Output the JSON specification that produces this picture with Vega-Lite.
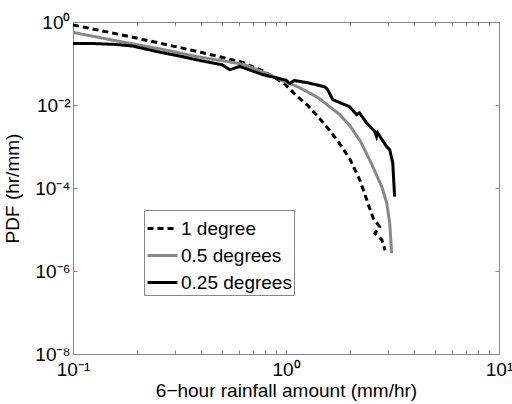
{
  "$schema": "https://vega.github.io/schema/vega-lite/v6.json",
  "width": 426,
  "height": 332,
  "autosize": {"type": "none"},
  "padding": {"left": 73, "top": 22, "right": 13, "bottom": 50},
  "background": "white",
  "config": {
    "font": "Liberation Sans",
    "view": {"stroke": "#888888", "strokeWidth": 1},
    "axis": {"grid": false, "domain": false, "tickColor": "#888888", "tickWidth": 1, "labelColor": "#000000", "titleColor": "#000000", "labelFontSize": 19, "titleFontSize": 19, "titleFontWeight": "normal", "labelFont": "Liberation Sans", "titleFont": "Liberation Sans"}
  },
  "data": {"values": [
    {"s": "1 degree", "i": 1, "x": 0.1, "y": 0.851},
    {"s": "1 degree", "i": 2, "x": 0.1585, "y": 0.525},
    {"s": "1 degree", "i": 3, "x": 0.2512, "y": 0.316},
    {"s": "1 degree", "i": 4, "x": 0.3981, "y": 0.186},
    {"s": "1 degree", "i": 5, "x": 0.5012, "y": 0.141},
    {"s": "1 degree", "i": 6, "x": 0.631, "y": 0.105},
    {"s": "1 degree", "i": 7, "x": 0.7943, "y": 0.0631},
    {"s": "1 degree", "i": 8, "x": 0.8913, "y": 0.0447},
    {"s": "1 degree", "i": 9, "x": 1.0, "y": 0.0302},
    {"s": "1 degree", "i": 10, "x": 1.122, "y": 0.0166},
    {"s": "1 degree", "i": 11, "x": 1.259, "y": 0.01},
    {"s": "1 degree", "i": 12, "x": 1.413, "y": 0.00525},
    {"s": "1 degree", "i": 13, "x": 1.585, "y": 0.00263},
    {"s": "1 degree", "i": 14, "x": 1.778, "y": 0.0012},
    {"s": "1 degree", "i": 15, "x": 1.995, "y": 0.000501},
    {"s": "1 degree", "i": 16, "x": 2.239, "y": 0.000141},
    {"s": "1 degree", "i": 17, "x": 2.455, "y": 0.0000355},
    {"s": "1 degree", "i": 18, "x": 2.57, "y": 0.0000186},
    {"s": "1 degree", "i": 19, "x": 2.754, "y": 0.0000115},
    {"s": "1 degree", "i": 20, "x": 2.612, "y": 0.00000813},
    {"s": "1 degree", "i": 21, "x": 2.818, "y": 0.00000562},
    {"s": "1 degree", "i": 22, "x": 2.917, "y": 0.00000316},
    {"s": "0.5 degrees", "i": 1, "x": 0.1, "y": 0.562},
    {"s": "0.5 degrees", "i": 2, "x": 0.1585, "y": 0.355},
    {"s": "0.5 degrees", "i": 3, "x": 0.2512, "y": 0.229},
    {"s": "0.5 degrees", "i": 4, "x": 0.3981, "y": 0.141},
    {"s": "0.5 degrees", "i": 5, "x": 0.5012, "y": 0.117},
    {"s": "0.5 degrees", "i": 6, "x": 0.631, "y": 0.0955},
    {"s": "0.5 degrees", "i": 7, "x": 0.7943, "y": 0.0603},
    {"s": "0.5 degrees", "i": 8, "x": 1.0, "y": 0.0355},
    {"s": "0.5 degrees", "i": 9, "x": 1.122, "y": 0.0282},
    {"s": "0.5 degrees", "i": 10, "x": 1.259, "y": 0.0209},
    {"s": "0.5 degrees", "i": 11, "x": 1.413, "y": 0.0151},
    {"s": "0.5 degrees", "i": 12, "x": 1.585, "y": 0.00955},
    {"s": "0.5 degrees", "i": 13, "x": 1.778, "y": 0.00603},
    {"s": "0.5 degrees", "i": 14, "x": 1.995, "y": 0.00316},
    {"s": "0.5 degrees", "i": 15, "x": 2.239, "y": 0.00132},
    {"s": "0.5 degrees", "i": 16, "x": 2.512, "y": 0.000398},
    {"s": "0.5 degrees", "i": 17, "x": 2.818, "y": 0.000107},
    {"s": "0.5 degrees", "i": 18, "x": 2.972, "y": 0.0000437},
    {"s": "0.5 degrees", "i": 19, "x": 3.069, "y": 0.0000141},
    {"s": "0.5 degrees", "i": 20, "x": 3.133, "y": 0.00000269},
    {"s": "0.25 degrees", "i": 1, "x": 0.1, "y": 0.302},
    {"s": "0.25 degrees", "i": 2, "x": 0.1259, "y": 0.302},
    {"s": "0.25 degrees", "i": 3, "x": 0.1585, "y": 0.288},
    {"s": "0.25 degrees", "i": 4, "x": 0.1905, "y": 0.263},
    {"s": "0.25 degrees", "i": 5, "x": 0.2512, "y": 0.191},
    {"s": "0.25 degrees", "i": 6, "x": 0.3162, "y": 0.151},
    {"s": "0.25 degrees", "i": 7, "x": 0.3981, "y": 0.117},
    {"s": "0.25 degrees", "i": 8, "x": 0.5012, "y": 0.0933},
    {"s": "0.25 degrees", "i": 9, "x": 0.5445, "y": 0.0708},
    {"s": "0.25 degrees", "i": 10, "x": 0.6067, "y": 0.0851},
    {"s": "0.25 degrees", "i": 11, "x": 0.7798, "y": 0.0537},
    {"s": "0.25 degrees", "i": 12, "x": 1.0, "y": 0.0398},
    {"s": "0.25 degrees", "i": 13, "x": 1.04, "y": 0.0331},
    {"s": "0.25 degrees", "i": 14, "x": 1.096, "y": 0.0389},
    {"s": "0.25 degrees", "i": 15, "x": 1.25, "y": 0.0347},
    {"s": "0.25 degrees", "i": 16, "x": 1.521, "y": 0.0275},
    {"s": "0.25 degrees", "i": 17, "x": 1.57, "y": 0.0234},
    {"s": "0.25 degrees", "i": 18, "x": 1.656, "y": 0.0135},
    {"s": "0.25 degrees", "i": 19, "x": 1.986, "y": 0.00912},
    {"s": "0.25 degrees", "i": 20, "x": 2.143, "y": 0.00589},
    {"s": "0.25 degrees", "i": 21, "x": 2.213, "y": 0.00646},
    {"s": "0.25 degrees", "i": 22, "x": 2.388, "y": 0.00372},
    {"s": "0.25 degrees", "i": 23, "x": 2.612, "y": 0.00229},
    {"s": "0.25 degrees", "i": 24, "x": 2.661, "y": 0.00174},
    {"s": "0.25 degrees", "i": 25, "x": 2.692, "y": 0.00214},
    {"s": "0.25 degrees", "i": 26, "x": 2.965, "y": 0.001},
    {"s": "0.25 degrees", "i": 27, "x": 3.069, "y": 0.000832},
    {"s": "0.25 degrees", "i": 28, "x": 3.17, "y": 0.000407},
    {"s": "0.25 degrees", "i": 29, "x": 3.236, "y": 0.0000617}
  ]},
  "layer": [
    {
      "mark": {"type": "line", "strokeWidth": 3},
      "encoding": {
        "x": {"field": "x", "type": "quantitative", "scale": {"type": "log", "domain": [0.1, 10], "nice": false},
          "axis": {"orient": "bottom", "title": "6−hour rainfall amount (mm/hr)", "values": [0.1, 0.2, 0.3, 0.4, 0.5, 0.6, 0.7, 0.8, 0.9, 1, 2, 3, 4, 5, 6, 7, 8, 9, 10],
            "labelExpr": "abs(datum.value - 0.1) < 1e-9 ? '10⁻¹' : abs(datum.value - 1) < 1e-9 ? '10⁰' : abs(datum.value - 10) < 1e-9 ? '10¹' : ''",
            "tickSize": -4, "labelPadding": 10, "labelFlush": false, "labelOverlap": false, "titlePadding": 2}},
        "y": {"field": "y", "type": "quantitative", "scale": {"type": "log", "domain": [0.00000001, 1], "nice": false},
          "axis": {"orient": "left", "title": "PDF (hr/mm)", "values": [1, 0.01, 0.0001, 0.000001, 0.00000001],
            "labelExpr": "datum.value > 0.5 ? '10⁰' : datum.value > 0.005 ? '10⁻²' : datum.value > 0.00005 ? '10⁻⁴' : datum.value > 0.0000005 ? '10⁻⁶' : '10⁻⁸'",
            "tickSize": -4, "labelPadding": 7, "labelFlush": false, "labelOverlap": false, "titlePadding": 12}},
        "order": {"field": "i", "type": "quantitative"},
        "color": {"field": "s", "type": "nominal", "scale": {"domain": ["1 degree", "0.5 degrees", "0.25 degrees"], "range": ["#000000", "#888888", "#000000"]},
          "legend": {"title": null, "orient": "none", "legendX": 71, "legendY": 188, "padding": 2, "rowPadding": -1, "labelFontSize": 19, "labelFont": "Liberation Sans", "labelColor": "#000000", "symbolType": "stroke", "symbolSize": 900, "symbolStrokeWidth": 3, "labelOffset": 2, "strokeColor": "#888888", "fillColor": "white", "cornerRadius": 0}},
        "strokeDash": {"field": "s", "type": "nominal", "scale": {"domain": ["1 degree", "0.5 degrees", "0.25 degrees"], "range": [[6, 4], [1, 0], [1, 0]]},
          "legend": {"title": null, "orient": "none", "legendX": 71, "legendY": 188, "padding": 2, "rowPadding": -1, "labelFontSize": 19, "labelFont": "Liberation Sans", "labelColor": "#000000", "symbolType": "stroke", "symbolSize": 900, "symbolStrokeWidth": 3, "labelOffset": 2, "strokeColor": "#888888", "fillColor": "white", "cornerRadius": 0}}
      }
    },
    {
      "mark": {"type": "point", "opacity": 0},
      "encoding": {
        "x": {"field": "x", "type": "quantitative", "axis": {"orient": "top", "title": null, "labels": false, "values": [0.1, 0.2, 0.3, 0.4, 0.5, 0.6, 0.7, 0.8, 0.9, 1, 2, 3, 4, 5, 6, 7, 8, 9, 10], "tickSize": -4}},
        "y": {"field": "y", "type": "quantitative", "axis": {"orient": "right", "title": null, "labels": false, "values": [1, 0.01, 0.0001, 0.000001, 0.00000001], "tickSize": -4}}
      }
    }
  ],
  "resolve": {"axis": {"x": "independent", "y": "independent"}}
}
